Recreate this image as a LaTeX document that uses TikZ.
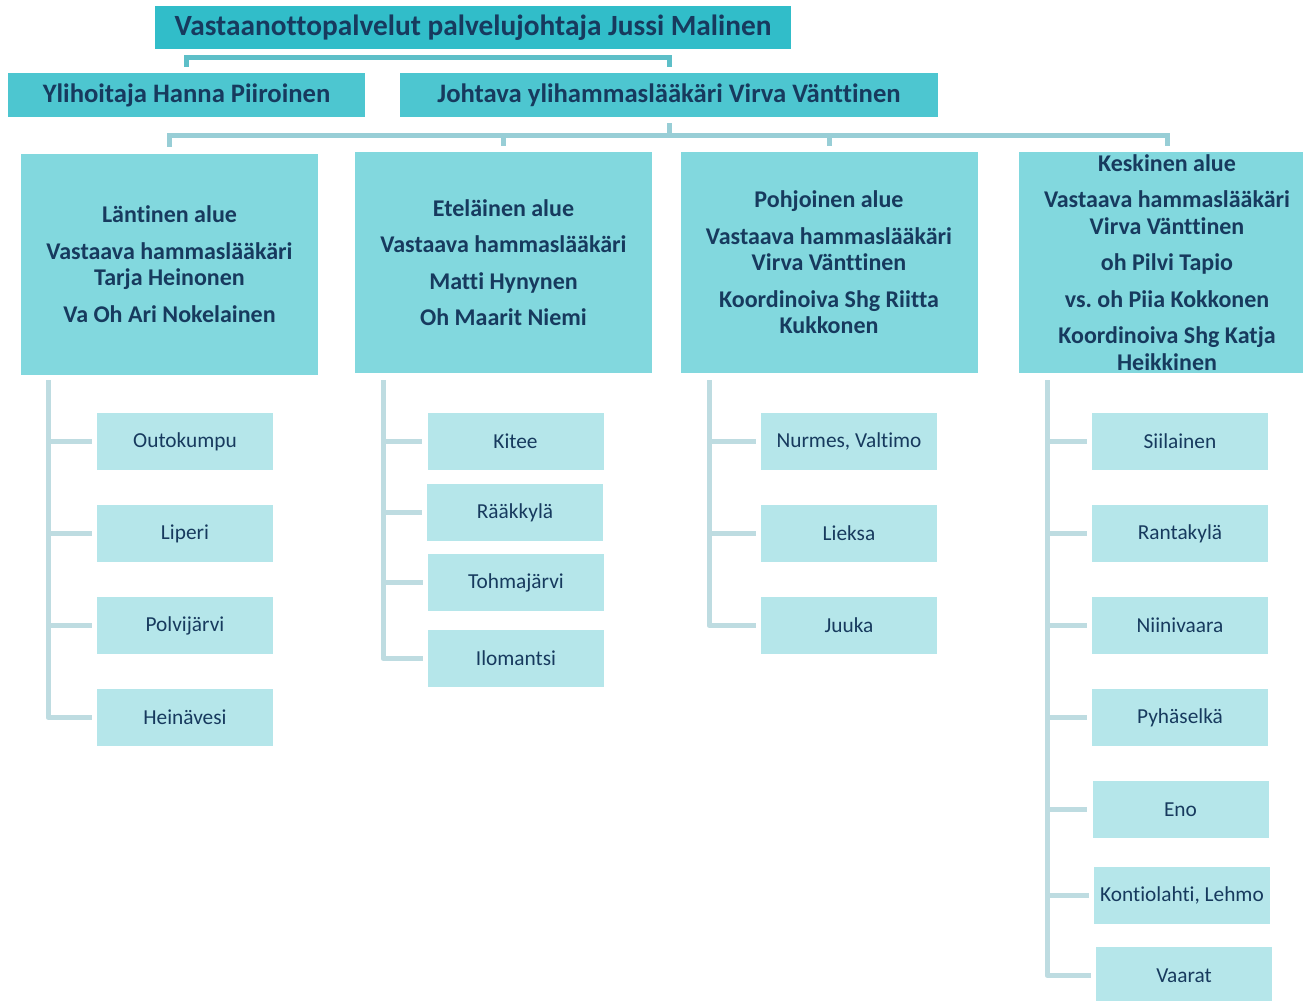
\documentclass[tikz,border=0pt]{standalone}
\usepackage{fontspec}
\setmainfont{Carlito}[Ligatures=NoCommon]
\frenchspacing
\definecolor{navy}{HTML}{173A5E}
\definecolor{topfill}{HTML}{31BDC9}
\definecolor{midfill}{HTML}{4DC6D0}
\definecolor{areafill}{HTML}{82D8DE}
\definecolor{leaffill}{HTML}{B5E6EA}
\definecolor{topline}{HTML}{5DBFC8}
\definecolor{midline}{HTML}{98CED6}
\definecolor{leafline}{HTML}{BEDCE1}
\begin{document}
\begin{tikzpicture}[x=0.75pt,y=-0.75pt,
  box/.style 2 args={rectangle, inner sep=0pt, align=center, text=navy,
    minimum width=#1*0.75pt, minimum height=#2*0.75pt},
  topbox/.style={box={636}{43}, fill=topfill, font=\fontsize{22pt}{26pt}\selectfont\bfseries},
  midbox/.style={box={#1}{44}, fill=midfill, font=\fontsize{20pt}{24pt}\selectfont\bfseries},
  areabox/.style={box={297}{221}, fill=areafill, font=\fontsize{18pt}{19.9pt}\selectfont\bfseries},
  leafbox/.style={box={176}{57}, fill=leaffill, font=\fontsize{16pt}{18pt}\selectfont},
  toplink/.style={draw=topline, line width=3.75pt, shorten <=4.5pt, shorten >=4.5pt},
  midlink/.style={draw=midline, line width=3.75pt, shorten <=4.5pt, shorten >=4.5pt},
  leaflink/.style={draw=leafline, line width=3.75pt, line join=round, shorten >=3.75pt},
]
\useasboundingbox (0,0) rectangle (1303,1000);

% top levels
\node[topbox] (top) at (473,27.5) {Vastaanottopalvelut palvelujohtaja Jussi Malinen};
\node[midbox=357] (ylih) at (186.5,95) {Ylihoitaja Hanna Piiroinen};
\node[midbox=538] (joht) at (669,95) {Johtava ylihammaslääkäri Virva Vänttinen};

\draw[toplink] (ylih.north) -- ++(0,-15) -| (joht.north);

% areas
\node[areabox] (A1) at (169.5,264) {Läntinen alue\\[7.5pt]Vastaava hammaslääkäri\\Tarja Heinonen\\[7.5pt]Va Oh Ari Nokelainen};
\node[areabox] (A2) at (503.5,262.5) {Eteläinen alue\\[7.5pt]Vastaava hammaslääkäri\\[7.5pt]Matti Hynynen\\[7.5pt]Oh Maarit Niemi};
\node[areabox] (A3) at (829,262.5) {Pohjoinen alue\\[7.5pt]Vastaava hammaslääkäri\\Virva Vänttinen\\[7.5pt]Koordinoiva Shg Riitta\\Kukkonen};
\node[areabox] (A4) at (1167,262.5) {Keskinen alue\\[7.5pt]Vastaava hammaslääkäri\\Virva Vänttinen\\[7.5pt]oh Pilvi Tapio\\[7.5pt]vs. oh Piia Kokkonen\\[7.5pt]Koordinoiva Shg Katja\\Heikkinen};

\foreach \a in {A1,A2,A3,A4}
  \draw[midlink] (joht.south) -- ++(0,18) -| (\a.north);

% leaves: Läntinen
\node[leafbox] (L1) at (185,441.5) {Outokumpu};
\node[leafbox] (L2) at (185,533.5) {Liperi};
\node[leafbox] (L3) at (185,625.5) {Polvijärvi};
\node[leafbox] (L4) at (185,717.5) {Heinävesi};
\coordinate (Ls) at (48,380);
\foreach \l in {L1,L2,L3,L4} \draw[leaflink] (Ls) |- (\l.west);

% leaves: Eteläinen
\node[leafbox] (E1) at (515.5,441.5) {Kitee};
\node[leafbox] (E2) at (515,512.5) {Rääkkylä};
\node[leafbox] (E3) at (516,582.5) {Tohmajärvi};
\node[leafbox] (E4) at (516,658.5) {Ilomantsi};
\coordinate (Es) at (383,380);
\foreach \l in {E1,E2,E3,E4} \draw[leaflink] (Es) |- (\l.west);

% leaves: Pohjoinen
\node[leafbox] (P1) at (849,441.5) {Nurmes, Valtimo};
\node[leafbox] (P2) at (849,533.5) {Lieksa};
\node[leafbox] (P3) at (849,625.5) {Juuka};
\coordinate (Ps) at (709,380);
\foreach \l in {P1,P2,P3} \draw[leaflink] (Ps) |- (\l.west);

% leaves: Keskinen
\node[leafbox] (K1) at (1180,441.5) {Siilainen};
\node[leafbox] (K2) at (1180,533.5) {Rantakylä};
\node[leafbox] (K3) at (1180,625.5) {Niinivaara};
\node[leafbox] (K4) at (1180,717.5) {Pyhäselkä};
\node[leafbox] (K5) at (1180.5,809.5) {Eno};
\node[leafbox] (K6) at (1182,895.5) {Kontiolahti, Lehmo};
\node[leafbox] (K7) at (1184,975.5) {Vaarat};
\coordinate (Ks) at (1047,380);
\foreach \l in {K1,K2,K3,K4,K5,K6,K7} \draw[leaflink] (Ks) |- (\l.west);
\end{tikzpicture}
\end{document}
